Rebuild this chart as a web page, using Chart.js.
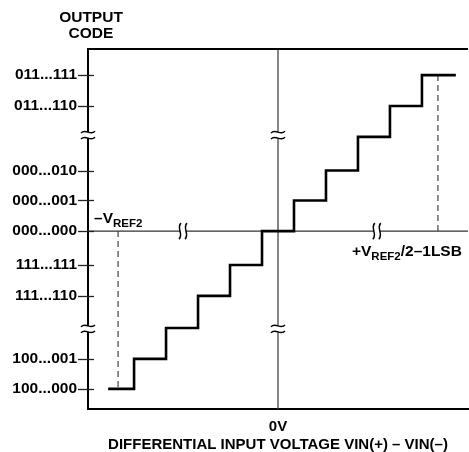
<!DOCTYPE html>
<html><head><meta charset="utf-8">
<script src="https://cdn.jsdelivr.net/npm/chart.js@4.4.1/dist/chart.umd.min.js"></script>
<style>html,body{margin:0;padding:0;background:#fff}#wrap{width:469px;height:452px;position:relative}</style>
</head><body><div id="wrap"><canvas id="c"></canvas></div>
<script>
// ---- data ----
const codeLabels = ['100...000','100...001','111...110','111...111','000...000','000...001','000...010','011...110','011...111'];
const codeLevels = [0.67, 1.67, 3.77, 4.8, 5.93, 6.95, 7.95, 10.1, 11.13];
const stepEdges  = [-5.31, -4.5, -3.5, -2.5, -1.5, -0.5, 0.5, 1.5, 2.5, 3.5, 4.5, 5.56]; // input voltage, LSB
const stepLevels = [0.67, 1.67, 2.7, 3.77, 4.8, 5.93, 6.95, 7.95, 9.07, 10.1, 11.13];
const refMarks   = [-5, 5];              // -VREF2 and +VREF2/2-1LSB, LSB
const zeroCode   = 5.93;                 // 000...000 level
const breaksY    = [2.67, 9.13];         // axis breaks on vertical lines
const breaksX    = [-2.97, 3.09];        // axis breaks on the 000...000 line
const xTickValues = [0];
const xTickLabels = ['0V'];
const xRange = [-5.94, 5.94];
const yRange = [0, 12];

const FONT = '"Liberation Sans", Arial, sans-serif';
Chart.defaults.font.family = FONT;

const stairs = stepEdges.map((x, i) => ({x, y: stepLevels[Math.min(i, stepLevels.length - 1)]}));

const decor = {
  id: 'decor',
  afterDatasetsDraw(chart) {
    const {ctx, chartArea: ca, scales: {x, y}} = chart;
    ctx.save();
    // top border
    ctx.strokeStyle = '#000'; ctx.lineWidth = 2;
    ctx.beginPath(); ctx.moveTo(ca.left - 1, ca.top); ctx.lineTo(ca.right, ca.top); ctx.stroke();
    // y tick marks
    ctx.lineWidth = 1.3; ctx.strokeStyle = '#222';
    codeLevels.forEach(v => {
      const py = Math.round(y.getPixelForValue(v)) + 0.5;
      ctx.beginPath(); ctx.moveTo(ca.left - 10, py); ctx.lineTo(ca.left + 6, py); ctx.stroke();
    });
    // vertical breaks
    const vx = [x.left, x.getPixelForValue(0)];
    vx.forEach(px => {
      breaksY.forEach(v => {
        const py = y.getPixelForValue(v);
        ctx.fillStyle = '#fff';
        ctx.fillRect(px - 3, py - 3, 6, 6);
        ctx.strokeStyle = '#000'; ctx.lineWidth = 1.5;
        [-3, 3].forEach(d => {
          const yy = py + d;
          ctx.beginPath();
          ctx.moveTo(px - 7, yy + 1);
          ctx.bezierCurveTo(px - 3, yy - 4, px + 3, yy + 4, px + 7, yy - 1);
          ctx.stroke();
        });
      });
    });
    // horizontal breaks
    const hy = y.getPixelForValue(zeroCode);
    breaksX.forEach(v => {
      const px = x.getPixelForValue(v);
      ctx.fillStyle = '#fff';
      ctx.fillRect(px - 3, hy - 3, 6, 6);
      ctx.strokeStyle = '#000'; ctx.lineWidth = 1.5;
      [-3, 3].forEach(d => {
        const xx = px + d;
        ctx.beginPath();
        ctx.moveTo(xx + 1, hy - 8);
        ctx.bezierCurveTo(xx - 4, hy - 3, xx + 4, hy + 3, xx - 1, hy + 8);
        ctx.stroke();
      });
    });
    ctx.restore();
  },
  afterDraw(chart) {
    const {ctx, scales: {x, y}} = chart;
    ctx.save();
    ctx.fillStyle = '#000';
    ctx.font = 'bold 15.5px ' + FONT;
    ctx.textAlign = 'center'; ctx.textBaseline = 'middle';
    ctx.fillText('OUTPUT', 91, 18);
    ctx.fillText('CODE', 91, 34);
    // -VREF2
    const hy = y.getPixelForValue(zeroCode);
    ctx.textAlign = 'left'; ctx.textBaseline = 'alphabetic';
    let px = x.getPixelForValue(refMarks[0]) - 24;
    ctx.font = 'bold 15.5px ' + FONT;
    ctx.fillText('\u2013V', px, hy - 8);
    px += ctx.measureText('\u2013V').width;
    ctx.font = 'bold 11.5px ' + FONT;
    ctx.fillText('REF2', px, hy - 4);
    // +VREF2/2-1LSB
    px = x.getPixelForValue(refMarks[1]) - 86;
    const by = hy + 25;
    ctx.font = 'bold 15.5px ' + FONT;
    ctx.fillText('+V', px, by);
    px += ctx.measureText('+V').width;
    ctx.font = 'bold 11.5px ' + FONT;
    ctx.fillText('REF2', px, by + 4);
    px += ctx.measureText('REF2').width;
    ctx.font = 'bold 15.5px ' + FONT;
    ctx.fillText('/2\u20131LSB', px, by);
    ctx.restore();
  }
};

new Chart(document.getElementById('c'), {
  type: 'scatter',
  data: {
    datasets: [
      { data: stairs, showLine: true, stepped: 'before', borderColor: '#000', borderWidth: 2.6, pointRadius: 0, order: 1 },
      { data: [{x: refMarks[0], y: zeroCode}, {x: refMarks[0], y: stepLevels[0]}], showLine: true, borderColor: '#444', borderWidth: 1.2, borderDash: [6, 4], pointRadius: 0, order: 2 },
      { data: [{x: refMarks[1], y: zeroCode}, {x: refMarks[1], y: stepLevels[stepLevels.length - 1]}], showLine: true, borderColor: '#444', borderWidth: 1.2, borderDash: [6, 4], pointRadius: 0, order: 2 },
      { data: [{x: xRange[0], y: zeroCode}, {x: xRange[1], y: zeroCode}], showLine: true, borderColor: '#333', borderWidth: 1.3, pointRadius: 0, order: 3 },
      { data: [{x: 0, y: yRange[0]}, {x: 0, y: yRange[1]}], showLine: true, borderColor: '#444', borderWidth: 1.3, pointRadius: 0, order: 3 }
    ]
  },
  options: {
    responsive: true, maintainAspectRatio: false, animation: false,
    layout: { padding: { top: 49, right: 1, left: 0, bottom: 0 } },
    plugins: { legend: { display: false }, tooltip: { enabled: false } },
    scales: {
      x: {
        type: 'linear', min: xRange[0], max: xRange[1],
        afterBuildTicks: s => { s.ticks = xTickValues.map(v => ({value: v})); },
        afterFit: s => { s.height = 43; },
        grid: { display: false, drawTicks: false },
        border: { display: true, color: '#000', width: 2 },
        ticks: { padding: 9, color: '#000', font: { weight: 'bold', size: 15 }, callback: (v, i) => xTickLabels[i] },
        title: { display: true, text: 'DIFFERENTIAL INPUT VOLTAGE VIN(+) \u2013 VIN(\u2013)', color: '#000', font: { weight: 'bold', size: 15, lineHeight: 1 }, padding: { top: 0, bottom: 0 } }
      },
      y: {
        type: 'linear', min: yRange[0], max: yRange[1],
        afterBuildTicks: s => { s.ticks = codeLevels.map(v => ({value: v})); },
        afterFit: s => { s.width = 88; },
        grid: { display: false, drawTicks: false },
        border: { display: true, color: '#000', width: 2 },
        ticks: { padding: 11, autoSkip: false, color: '#000', font: { weight: 'bold', size: 15.5 }, callback: (v, i) => codeLabels[i] }
      }
    }
  },
  plugins: [decor]
});
</script>
</body></html>
